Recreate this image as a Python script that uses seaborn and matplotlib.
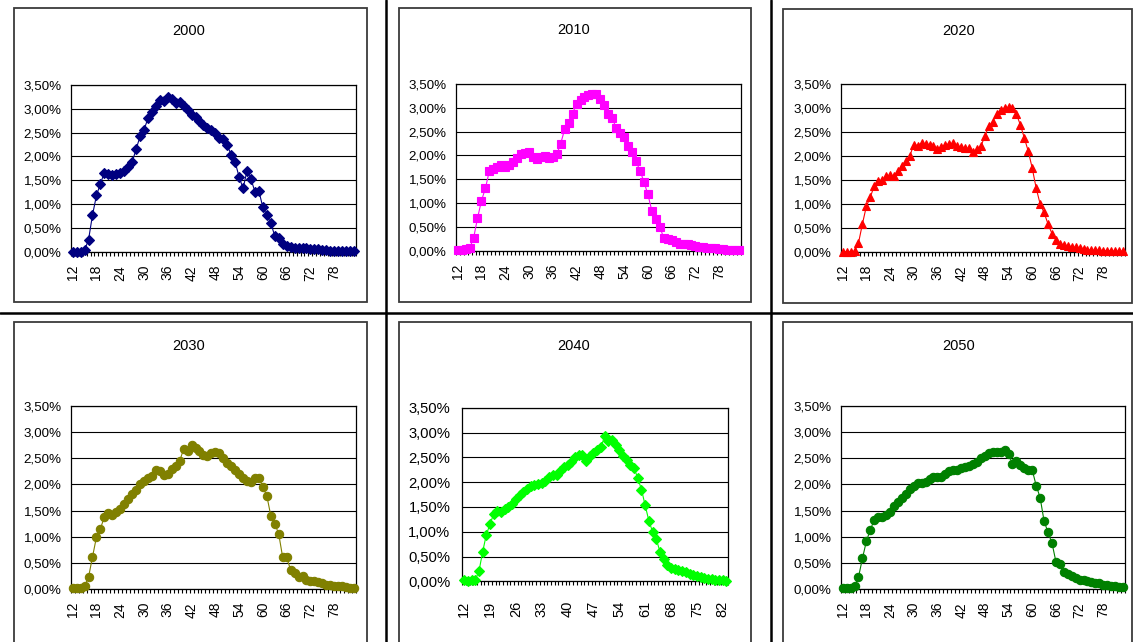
import numpy as np
import pandas as pd
import matplotlib
matplotlib.use("Agg")
import matplotlib.pyplot as plt
import seaborn as sns
from matplotlib import font_manager
from matplotlib.patches import Rectangle
from matplotlib.lines import Line2D
from matplotlib.ticker import FixedLocator, FuncFormatter

# ---------------- data ----------------
ages = list(range(12, 84))
years = ["2000", "2010", "2020", "2030", "2040", "2050"]

share_2000 = [0.00, 0.00, 0.00, 0.03, 0.25, 0.77, 1.18, 1.43, 1.66, 1.63,
              1.62, 1.64, 1.65, 1.70, 1.78, 1.88, 2.15, 2.42, 2.56, 2.80,
              2.93, 3.05, 3.18, 3.16, 3.24, 3.20, 3.13, 3.15, 3.05, 2.98,
              2.88, 2.82, 2.75, 2.67, 2.60, 2.56, 2.50, 2.38, 2.37, 2.24,
              2.03, 1.88, 1.57, 1.33, 1.70, 1.52, 1.26, 1.27, 0.93, 0.77,
              0.60, 0.33, 0.28, 0.17, 0.12, 0.09, 0.08, 0.07, 0.07, 0.07,
              0.06, 0.05, 0.05, 0.04, 0.03, 0.02, 0.02, 0.02, 0.01, 0.01,
              0.01, 0.01]
share_2010 = [0.02, 0.02, 0.03, 0.05, 0.26, 0.68, 1.05, 1.31, 1.68, 1.72,
              1.76, 1.79, 1.76, 1.80, 1.87, 1.94, 2.03, 2.05, 2.08, 1.97,
              1.93, 1.97, 1.98, 1.94, 1.97, 2.02, 2.25, 2.55, 2.68, 2.88,
              3.08, 3.17, 3.22, 3.26, 3.28, 3.28, 3.18, 3.05, 2.88, 2.78,
              2.58, 2.47, 2.38, 2.20, 2.08, 1.88, 1.68, 1.45, 1.18, 0.84,
              0.67, 0.50, 0.27, 0.25, 0.22, 0.19, 0.15, 0.15, 0.14, 0.12,
              0.10, 0.08, 0.07, 0.06, 0.05, 0.05, 0.04, 0.03, 0.02, 0.02,
              0.02, 0.02]
share_2020 = [0.00, 0.00, 0.00, 0.01, 0.18, 0.58, 0.95, 1.14, 1.38, 1.48,
              1.50, 1.58, 1.60, 1.58, 1.68, 1.80, 1.90, 2.00, 2.24, 2.22,
              2.27, 2.25, 2.23, 2.20, 2.15, 2.18, 2.24, 2.25, 2.27, 2.20,
              2.18, 2.16, 2.16, 2.08, 2.15, 2.20, 2.42, 2.62, 2.72, 2.88,
              2.97, 3.00, 3.02, 3.00, 2.88, 2.65, 2.38, 2.10, 1.75, 1.33,
              1.00, 0.82, 0.58, 0.38, 0.25, 0.17, 0.14, 0.12, 0.10, 0.09,
              0.07, 0.06, 0.04, 0.03, 0.03, 0.03, 0.02, 0.02, 0.02, 0.01,
              0.01, 0.01]
share_2030 = [0.02, 0.02, 0.02, 0.05, 0.22, 0.61, 0.99, 1.15, 1.38, 1.46,
              1.42, 1.48, 1.52, 1.62, 1.72, 1.82, 1.90, 2.00, 2.06, 2.12,
              2.17, 2.27, 2.25, 2.18, 2.20, 2.30, 2.36, 2.45, 2.68, 2.64,
              2.76, 2.70, 2.65, 2.56, 2.55, 2.60, 2.62, 2.60, 2.50, 2.42,
              2.35, 2.28, 2.20, 2.12, 2.06, 2.05, 2.13, 2.13, 1.95, 1.78,
              1.40, 1.25, 1.05, 0.60, 0.60, 0.36, 0.30, 0.22, 0.24, 0.17,
              0.14, 0.14, 0.12, 0.10, 0.08, 0.08, 0.06, 0.05, 0.05, 0.03,
              0.02, 0.02]
share_2040 = [0.02, 0.01, 0.02, 0.03, 0.20, 0.59, 0.94, 1.15, 1.36, 1.42,
              1.40, 1.45, 1.50, 1.55, 1.65, 1.73, 1.80, 1.87, 1.92, 1.95,
              1.97, 1.98, 2.03, 2.10, 2.14, 2.15, 2.22, 2.30, 2.35, 2.40,
              2.50, 2.55, 2.55, 2.42, 2.52, 2.58, 2.65, 2.70, 2.92, 2.82,
              2.85, 2.75, 2.65, 2.52, 2.45, 2.35, 2.28, 2.08, 1.85, 1.53,
              1.22, 1.00, 0.85, 0.60, 0.45, 0.33, 0.26, 0.25, 0.23, 0.20,
              0.18, 0.15, 0.13, 0.10, 0.08, 0.07, 0.05, 0.04, 0.03, 0.02,
              0.02, 0.01]
share_2050 = [0.02, 0.02, 0.02, 0.05, 0.22, 0.58, 0.91, 1.13, 1.32, 1.38,
              1.37, 1.42, 1.47, 1.58, 1.67, 1.74, 1.82, 1.92, 1.97, 2.02,
              2.02, 2.05, 2.11, 2.14, 2.15, 2.14, 2.20, 2.25, 2.27, 2.28,
              2.32, 2.34, 2.36, 2.40, 2.44, 2.50, 2.55, 2.60, 2.62, 2.62,
              2.62, 2.66, 2.58, 2.40, 2.45, 2.38, 2.32, 2.28, 2.28, 1.98,
              1.75, 1.30, 1.08, 0.88, 0.52, 0.48, 0.32, 0.28, 0.24, 0.20,
              0.17, 0.16, 0.14, 0.12, 0.10, 0.10, 0.08, 0.07, 0.06, 0.05,
              0.04, 0.03]
y_ticks = [0.0, 0.5, 1.0, 1.5, 2.0, 2.5, 3.0, 3.5]

series = [share_2000, share_2010, share_2020, share_2030, share_2040, share_2050]

# ---------------- style ----------------
sns.set_theme(style="white")
names = {f.name for f in font_manager.fontManager.ttflist}
narrow = "Liberation Sans Narrow" if "Liberation Sans Narrow" in names else "Liberation Sans"
plt.rcParams['font.family'] = ['Liberation Sans', 'DejaVu Sans']

W, H = 1133, 642
fig = plt.figure(figsize=(W / 100, H / 100), dpi=100)
fig.patch.set_facecolor("white")

# layout per panel (pixels)
ysz = 10.5 if narrow != "Liberation Sans" else 9.6
layout = [
    dict(color="#000080", marker="D", ms=5.2, box=(14.3, 8.3, 366.7, 302.3),
         plot=(70.7, 85.0, 356.0, 251.7), title=(189, 31), step=6,
         ysize=ysz, xsize=10, ypad=6.5, xpad=9.5),
    dict(color="#FF00FF", marker="s", ms=6.0, box=(399.3, 8.3, 750.7, 301.7),
         plot=(455.7, 84.0, 741.0, 250.7), title=(574, 30), step=6,
         ysize=ysz, xsize=10, ypad=6.5, xpad=9.5),
    dict(color="#FF0000", marker="^", ms=6.4, box=(783.3, 9.0, 1132.0, 303.3),
         plot=(840.7, 84.3, 1125.0, 251.7), title=(959, 31), step=6,
         ysize=ysz, xsize=10, ypad=6.5, xpad=9.5),
    dict(color="#808000", marker="o", ms=6.0, box=(14.3, 322.0, 366.7, 700),
         plot=(70.7, 406.3, 356.0, 588.7), title=(189, 346), step=6,
         ysize=ysz, xsize=10, ypad=6.5, xpad=9.5),
    dict(color="#00FF00", marker="D", ms=5.0, box=(399.3, 322.0, 750.7, 700),
         plot=(462.3, 407.7, 728.3, 581.3), title=(574, 346), step=7,
         ysize=ysz + 1.0, xsize=10.5, ypad=8.5, xpad=14),
    dict(color="#008000", marker="o", ms=6.0, box=(783.3, 322.0, 1132.0, 700),
         plot=(840.7, 406.3, 1125.0, 588.7), title=(959, 346), step=6,
         ysize=ysz, xsize=10, ypad=6.5, xpad=9.5),
]

pct = FuncFormatter(lambda v, p: f"{v:.2f}%".replace(".", ","))

for year, vals, L in zip(years, series, layout):
    bx0, by0, bx1, by1 = L["box"]
    fig.patches.append(Rectangle((bx0 / W, 1 - by1 / H), (bx1 - bx0) / W, (by1 - by0) / H,
                                 transform=fig.transFigure, fill=False,
                                 edgecolor="#3a3a3a", linewidth=1.3, zorder=1))
    fig.text(L["title"][0] / W, 1 - L["title"][1] / H, year, ha="center", va="center",
             fontsize=10.5, family=[narrow, "DejaVu Sans"], color="black")

    x0, y0, x1, y1 = L["plot"]
    ax = fig.add_axes([x0 / W, 1 - y1 / H, (x1 - x0) / W, (y1 - y0) / H])
    ax.set_facecolor("white")
    df = pd.DataFrame({"age": ages, "share": vals})
    sns.lineplot(data=df, x="age", y="share", ax=ax, color=L["color"],
                 marker=L["marker"], markersize=L["ms"], markeredgecolor=L["color"],
                 markeredgewidth=0.8, linewidth=0.8, clip_on=False, zorder=5)
    ax.set_xlim(ages[0] - 0.5, ages[-1] + 0.5)
    ax.set_ylim(y_ticks[0], y_ticks[-1])
    ax.set_xlabel("")
    ax.set_ylabel("")

    ax.yaxis.set_major_locator(FixedLocator(y_ticks))
    ax.yaxis.set_major_formatter(pct)
    ax.yaxis.grid(True, color="black", linewidth=0.8)
    ax.xaxis.grid(False)
    ax.set_axisbelow(True)

    ax.set_xticks(ages[::L["step"]])
    ax.set_xticklabels([str(a) for a in ages[::L["step"]]], rotation=90)
    ax.set_xticks([a - 0.5 for a in ages] + [ages[-1] + 0.5], minor=True)
    ax.tick_params(axis="x", which="major", length=0, pad=L["xpad"], labelsize=L["xsize"],
                   labelcolor="black")
    ax.tick_params(axis="x", which="minor", length=3.2, width=0.8, color="black",
                   direction="out", bottom=True)
    ax.tick_params(axis="y", which="major", length=0, pad=L["ypad"], labelcolor="black")
    for lab in ax.get_yticklabels():
        lab.set_family([narrow, "DejaVu Sans"])
        lab.set_fontsize(L["ysize"])
    for sp in ax.spines.values():
        sp.set_visible(True)
        sp.set_color("black")
        sp.set_linewidth(0.9)

# table lines
for xv in (385.5, 770.5):
    fig.lines.append(Line2D([xv / W, xv / W], [0, 1], transform=fig.transFigure,
                            color="black", linewidth=1.8))
fig.lines.append(Line2D([0, 1], [1 - 313 / H, 1 - 313 / H], transform=fig.transFigure,
                        color="black", linewidth=1.8))

fig.savefig("out.png", dpi=100, facecolor="white")
